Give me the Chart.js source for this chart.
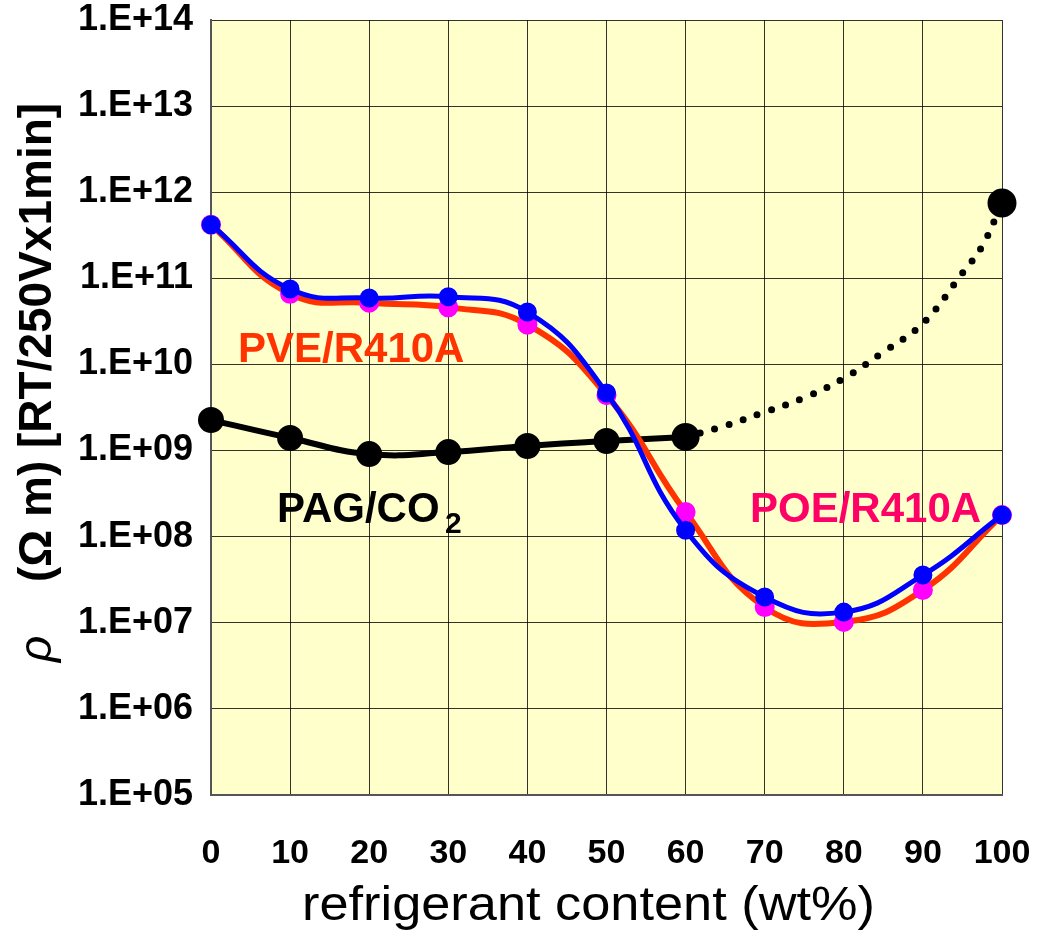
<!DOCTYPE html>
<html>
<head>
<meta charset="utf-8">
<script src="https://cdn.jsdelivr.net/npm/chart.js@4.4.1/dist/chart.umd.min.js"></script>
<style>
  html, body { margin: 0; padding: 0; background: #fff; }
  #wrap { width: 1039px; height: 935px; }
</style>
</head>
<body>
<div id="wrap"><canvas id="chart" width="1039" height="935"></canvas></div>
<script>
// refrigerant content (wt%)
const content = [0, 10, 20, 30, 40, 50, 60, 70, 80, 90, 100];

// volume resistivity, ohm m
const pveR410A = [4.2e11, 6.6e10, 5.2e10, 4.6e10, 2.9e10, 4.4e9, 1.93e8, 1.52e7, 1.02e7, 2.4e7, 1.78e8];
const poeR410A = [4.2e11, 7.5e10, 5.9e10, 6.1e10, 4.06e10, 4.66e9, 1.19e8, 1.99e7, 1.33e7, 3.58e7, 1.78e8];

const pagContent = [0, 10, 20, 30, 40, 50, 60];
const pagCO2 = [2.26e9, 1.4e9, 9.1e8, 9.6e8, 1.13e9, 1.29e9, 1.44e9];

// dotted trend from 60 wt% up to pure CO2
const pagTrendContent = [60, 65, 70, 75, 80, 85, 90, 95, 97.5, 100];
const pagTrend = [1.44e9, 1.94e9, 2.8e9, 4.1e9, 6.9e9, 1.39e10, 3.0e10, 1.15e11, 2.37e11, 7.5e11];

const decades = [1e5, 1e6, 1e7, 1e8, 1e9, 1e10, 1e11, 1e12, 1e13, 1e14];

const FONT = "'Liberation Sans', Arial, sans-serif";

function toPoints(xs, ys) {
  return xs.map((x, i) => ({ x: x, y: ys[i] }));
}

// pale yellow plot area
const plotBackground = {
  id: 'plotBackground',
  beforeDraw(chart) {
    const { ctx, chartArea: a } = chart;
    ctx.save();
    ctx.fillStyle = '#FFFFCC';
    ctx.fillRect(a.left, a.top, a.width, a.height);
    ctx.restore();
  }
};

// axis titles and series labels
const chartText = {
  id: 'chartText',
  afterDraw(chart) {
    const ctx = chart.ctx;
    ctx.save();
    ctx.textBaseline = 'alphabetic';
    ctx.textAlign = 'left';

    ctx.font = 'bold 42px ' + FONT;
    ctx.fillStyle = '#FF3300';
    ctx.fillText('PVE/R410A', 238, 362);
    ctx.fillStyle = '#FF0066';
    ctx.fillText('POE/R410A', 750, 522);
    ctx.fillStyle = '#000';
    ctx.fillText('PAG/CO', 277, 522);
    ctx.font = 'bold 30px ' + FONT;
    ctx.fillText('2', 445, 533);

    // x title, slightly widened
    ctx.font = '48px ' + FONT;
    const xt = 'refrigerant content (wt%)';
    const w = ctx.measureText(xt).width;
    ctx.save();
    ctx.translate(302, 920);
    ctx.scale(573 / w, 1);
    ctx.fillText(xt, 0, 0);
    ctx.restore();

    // y title, rotated
    ctx.save();
    ctx.translate(51, 662);
    ctx.rotate(-Math.PI / 2);
    ctx.font = 'italic 46px ' + FONT;
    ctx.fillText('\u03C1', 0, 0);
    ctx.font = 'bold 46px ' + FONT;
    ctx.fillText('(\u03A9 m) [RT/250Vx1min]', 80, 0);
    ctx.restore();

    ctx.restore();
  }
};

new Chart(document.getElementById('chart'), {
  type: 'line',
  data: {
    datasets: [
      {
        label: 'POE/R410A',
        data: toPoints(content, poeR410A),
        borderColor: '#0000FF',
        borderWidth: 5,
        pointBackgroundColor: '#0000FF',
        pointBorderColor: '#0000FF',
        pointRadius: 7,
        tension: 0.45,
        clip: false
      },
      {
        label: 'PVE/R410A',
        data: toPoints(content, pveR410A),
        borderColor: '#FF3300',
        borderWidth: 6,
        pointBackgroundColor: '#FF00FF',
        pointBorderColor: '#FF00FF',
        pointRadius: 7,
        tension: 0.45,
        clip: false
      },
      {
        label: 'PAG/CO2',
        data: toPoints(pagContent, pagCO2),
        borderColor: '#000',
        borderWidth: 6,
        pointBackgroundColor: '#000',
        pointBorderColor: '#000',
        pointRadius: [10, 10, 10, 10, 10, 10, 11],
        tension: 0.45,
        clip: false
      },
      {
        label: 'PAG/CO2 trend',
        data: toPoints(pagTrendContent, pagTrend),
        borderColor: '#000',
        borderWidth: 7,
        borderDash: [0, 15],
        borderCapStyle: 'round',
        pointBackgroundColor: '#000',
        pointBorderColor: '#000',
        pointRadius: pagTrend.map((v, i) => i === pagTrend.length - 1 ? 11 : 0),
        tension: 0.4,
        clip: false
      }
    ]
  },
  options: {
    responsive: false,
    animation: false,
    devicePixelRatio: 1,
    layout: { autoPadding: false, padding: { top: 20, right: 37, left: 0, bottom: 0 } },
    plugins: {
      legend: { display: false },
      tooltip: { enabled: false }
    },
    scales: {
      x: {
        type: 'linear',
        min: 0,
        max: 100,
        afterFit: (scale) => {
          scale.height = 140;
          scale.paddingLeft = 0;
          scale.paddingRight = 0;
        },
        border: { color: '#555', width: 2 },
        grid: { color: 'rgba(0,0,0,0.8)', lineWidth: 1, drawTicks: false },
        ticks: {
          stepSize: 10,
          padding: 38,
          color: '#000',
          maxRotation: 0,
          font: { family: FONT, size: 34, weight: 'bold' }
        }
      },
      y: {
        type: 'logarithmic',
        min: 1e5,
        max: 1e14,
        afterFit: (scale) => {
          scale.width = 211;
          scale.paddingTop = 0;
          scale.paddingBottom = 0;
        },
        afterBuildTicks: (scale) => { scale.ticks = decades.map(v => ({ value: v })); },
        border: { color: '#555', width: 2 },
        grid: { color: 'rgba(0,0,0,0.8)', lineWidth: 1, drawTicks: false },
        ticks: {
          padding: 18,
          color: '#000',
          font: { family: FONT, size: 36, weight: 'bold' },
          callback: (v) => {
            const e = Math.round(Math.log10(v));
            return '1.E+' + (e < 10 ? '0' : '') + e;
          }
        }
      }
    }
  },
  plugins: [plotBackground, chartText]
});
</script>
</body>
</html>
